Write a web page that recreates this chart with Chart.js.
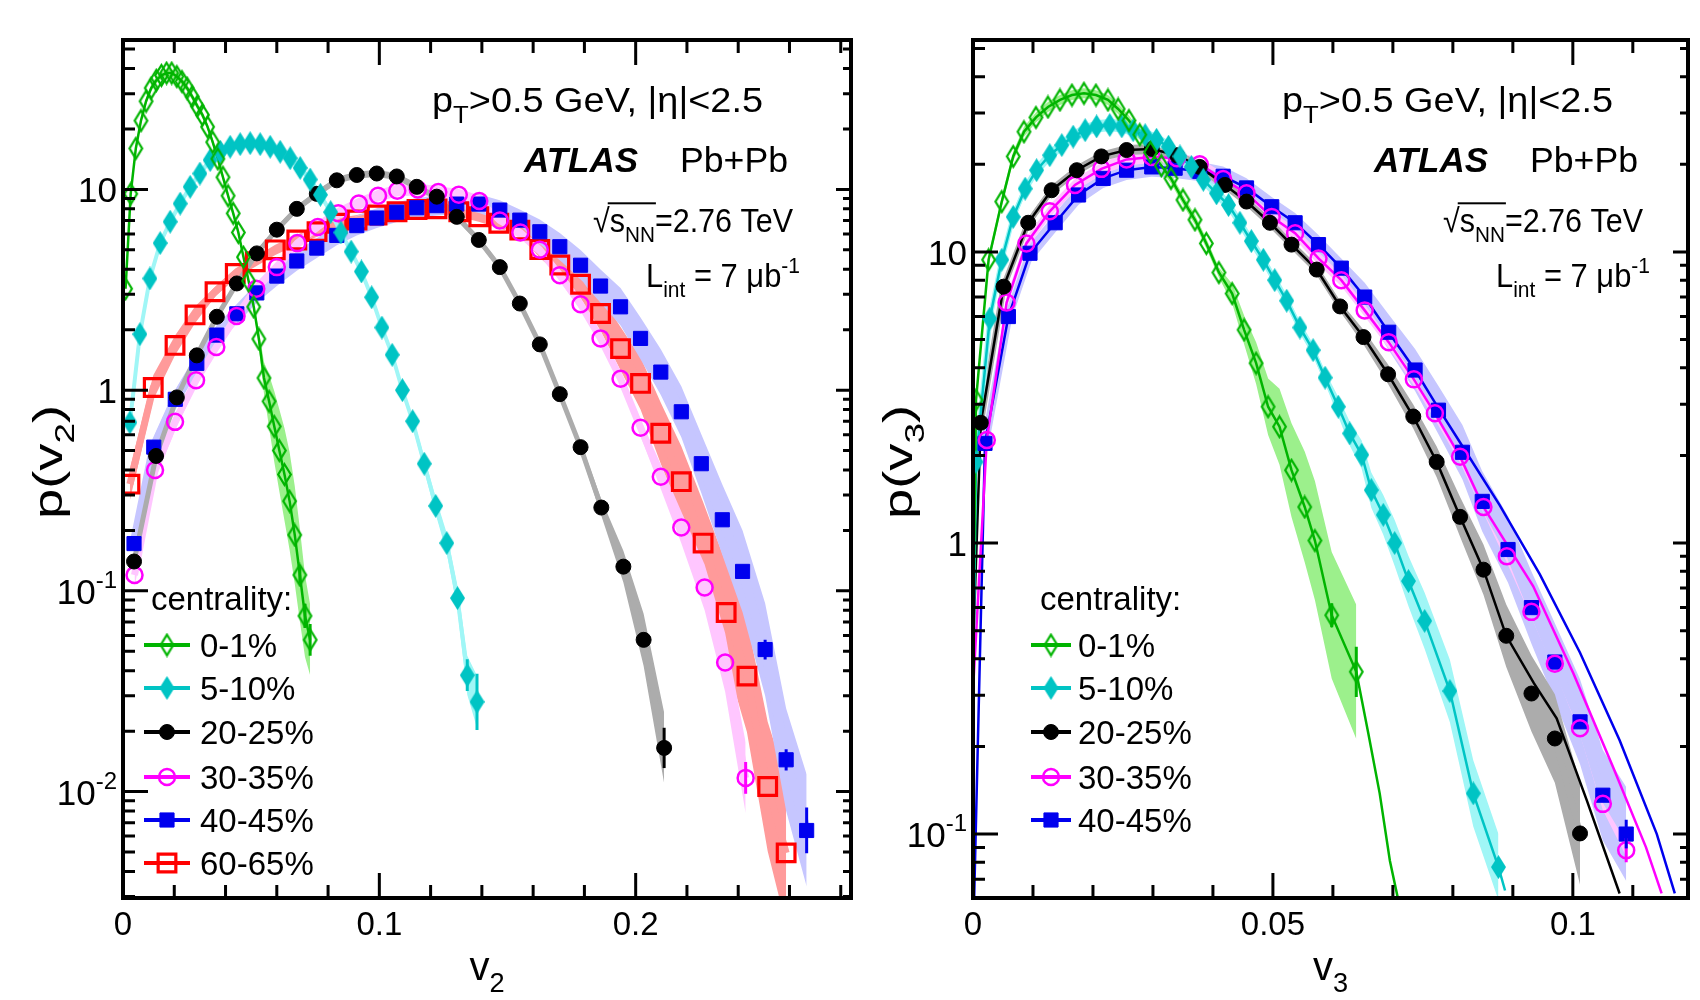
<!DOCTYPE html>
<html lang="en">
<head>
<meta charset="UTF-8">
<title>p(v2) and p(v3) - ATLAS Pb+Pb 2.76 TeV</title>
<script src="https://cdn.jsdelivr.net/npm/chart.js"></script>
<style>
  html, body { margin: 0; background: #fff; }
  #page { position: relative; width: 1700px; height: 1000px; }
  #page canvas { position: absolute; top: 0; }
</style>
</head>
<body>
<div id="page">
  <canvas id="v2Chart" width="880" height="1000" style="left:0px"></canvas>
  <canvas id="v3Chart" width="820" height="1000" style="left:880px"></canvas>
</div>
<script>
const FONT = "'Liberation Sans', Arial, Helvetica, sans-serif";

// axis ranges and tick labels
const v2Min = 0, v2Max = 0.284;
const v3Min = 0, v3Max = 0.1192;
const pv2Min = 0.00295, pv2Max = 55.5;
const pv3Min = 0.0603, pv3Max = 53.5;
const v2TickLabels = [0, 0.1, 0.2];
const v3TickLabels = [0, 0.05, 0.1];
const v2MinorStep = 0.02, v3MinorStep = 0.01;
const pv2TickLabels = [0.01, 0.1, 1, 10];
const pv3TickLabels = [0.1, 1, 10];

// ---- p(v2) per centrality class: points, relative systematic band, stat errors on the last points ----
const v2X_0to1 = [0.001,0.003,0.005,0.007,0.009,0.011,0.013,0.015,0.017,0.019,0.021,0.023,0.025,0.027,0.029,0.031,0.033,0.035,0.037,0.039,0.041,0.043,0.045,0.047,0.049,0.051,0.053,0.055,0.057,0.059,0.061,0.063,0.065,0.067,0.069,0.071,0.073];
const v2Y_0to1 = [3.2,9.5,16,22,27.5,32,35,37,38,38,36.5,34.5,32,29,26,23.5,20.5,17.2,14.2,11.5,9.3,7.6,6.1,4.6,3.5,2.6,1.8,1.15,0.88,0.66,0.5,0.38,0.28,0.19,0.12,0.075,0.057];
const v2Sys_0to1 = [0.04,0.04,0.04,0.04,0.04,0.04,0.04,0.04,0.04,0.04,0.04,0.04,0.04,0.04,0.04,0.04,0.04,0.04,0.04,0.04,0.04,0.04,0.04,0.04,0.04,0.04,0.1,0.2,0.35,0.5,0.6,0.7,0.75,0.75,0.7,0.6,0.5];
const v2Stat_0to1 = [0.1,0.15,0.2];

const v2X_5to10 = [0.0027,0.0066,0.0105,0.0145,0.0184,0.0223,0.0262,0.030,0.034,0.038,0.0418,0.0457,0.0496,0.0535,0.0574,0.0613,0.0652,0.0691,0.073,0.077,0.081,0.085,0.089,0.093,0.097,0.101,0.105,0.109,0.113,0.1175,0.122,0.1263,0.1305,0.1343,0.1381];
const v2Y_5to10 = [0.69,1.9,3.6,5.4,6.9,8.5,10.3,12.0,14.0,15.4,16.3,16.8,17.0,16.8,16.3,15.4,14.3,12.8,11.2,9.4,7.7,6.1,4.9,3.9,2.9,2.05,1.5,1.0,0.70,0.43,0.265,0.173,0.092,0.038,0.028];
const v2Sys_5to10 = [0.04,0.04,0.04,0.04,0.04,0.04,0.04,0.04,0.04,0.04,0.04,0.04,0.04,0.04,0.04,0.04,0.04,0.04,0.04,0.04,0.04,0.04,0.04,0.04,0.04,0.04,0.04,0.04,0.06,0.08,0.1,0.12,0.15,0.25,0.35];
const v2Stat_5to10 = [0.2,0.38];

const v2X_20to25 = [0.0043,0.0129,0.021,0.0288,0.0366,0.0444,0.0522,0.060,0.0678,0.0756,0.0834,0.0912,0.099,0.1068,0.1146,0.1224,0.1302,0.1388,0.147,0.1548,0.1626,0.1704,0.1785,0.1866,0.1952,0.2031,0.2111];
const v2Y_20to25 = [0.14,0.47,0.92,1.49,2.32,3.4,4.8,6.3,8.0,9.5,11.1,11.8,12.0,11.6,10.3,9.2,7.3,5.6,4.1,2.7,1.69,0.955,0.52,0.26,0.132,0.057,0.0165];
const v2Sys_20to25 = [0.04,0.04,0.04,0.04,0.04,0.04,0.04,0.04,0.04,0.04,0.04,0.04,0.04,0.04,0.04,0.04,0.04,0.04,0.04,0.04,0.04,0.04,0.06,0.1,0.2,0.35,0.5];
const v2Stat_20to25 = [0.26];

const v2X_30to35 = [0.0045,0.0125,0.0203,0.0285,0.0364,0.0443,0.052,0.060,0.068,0.076,0.084,0.092,0.0995,0.107,0.115,0.123,0.131,0.139,0.147,0.155,0.1626,0.1704,0.1785,0.1863,0.1941,0.2019,0.2098,0.2178,0.2269,0.2349,0.2429];
const v2Y_30to35 = [0.12,0.40,0.695,1.12,1.64,2.34,3.2,4.1,5.4,6.5,7.6,8.5,9.3,9.85,10.0,9.7,9.4,8.75,7.0,6.1,5.0,3.74,2.68,1.81,1.14,0.65,0.37,0.207,0.104,0.044,0.0117];
const v2Sys_30to35 = [0.15,0.12,0.1,0.07,0.07,0.07,0.07,0.07,0.07,0.07,0.07,0.07,0.07,0.07,0.07,0.07,0.07,0.07,0.07,0.07,0.07,0.07,0.07,0.07,0.07,0.1,0.15,0.2,0.3,0.4,0.5];
const v2Stat_30to35 = [0.2];

const v2X_40to45 = [0.0043,0.012,0.0204,0.0288,0.0366,0.0444,0.0522,0.060,0.0678,0.0756,0.0834,0.0912,0.099,0.1068,0.1146,0.1224,0.1302,0.1388,0.147,0.1548,0.1626,0.1704,0.1785,0.1863,0.1941,0.2019,0.2098,0.2178,0.2256,0.2338,0.2417,0.2505,0.2587,0.2667];
const v2Y_40to45 = [0.172,0.52,0.90,1.36,1.88,2.40,3.05,3.7,4.4,5.1,5.9,6.6,7.2,7.7,8.1,8.3,8.45,8.45,7.89,7.03,6.15,5.18,4.19,3.3,2.6,1.81,1.23,0.78,0.43,0.226,0.125,0.051,0.0144,0.0064];
const v2Sys_40to45 = [0.12,0.12,0.12,0.12,0.12,0.12,0.12,0.12,0.12,0.12,0.12,0.12,0.12,0.12,0.12,0.12,0.12,0.12,0.12,0.13,0.15,0.17,0.19,0.21,0.24,0.27,0.3,0.34,0.4,0.5,0.6,0.7,0.8,0.9];
const v2Stat_40to45 = [0.12,0.13,0.3];

const v2X_60to65 = [0.0027,0.0118,0.0203,0.0281,0.0359,0.0438,0.0516,0.0594,0.0678,0.0757,0.0835,0.0913,0.0991,0.1069,0.1147,0.1225,0.131,0.1388,0.1466,0.1548,0.1626,0.1704,0.1785,0.1863,0.1941,0.2019,0.2098,0.2178,0.2263,0.2353,0.2434,0.2515,0.2587];
const v2Y_60to65 = [0.34,1.03,1.67,2.37,3.09,3.81,4.36,5.0,5.6,6.16,6.78,7.04,7.45,7.74,7.94,8.0,7.74,7.31,6.78,6.27,5.02,4.2,3.37,2.41,1.61,1.08,0.61,0.35,0.173,0.078,0.0376,0.0106,0.00495];
const v2Sys_60to65 = [0.2,0.15,0.12,0.1,0.06,0.06,0.06,0.06,0.06,0.06,0.06,0.06,0.06,0.06,0.06,0.06,0.06,0.06,0.06,0.06,0.1,0.13,0.17,0.22,0.28,0.35,0.42,0.5,0.6,0.75,0.9,1.1,1.3];

// ---- p(v3) per centrality class: points, band, stat errors, and the continuous curve's tail ----
const v3X_0to1 = [0.0005,0.0026,0.0048,0.0067,0.0085,0.0105,0.0125,0.0145,0.0165,0.0185,0.0205,0.0225,0.0242,0.026,0.0278,0.0296,0.0314,0.033,0.035,0.037,0.0389,0.041,0.0432,0.0452,0.0472,0.0492,0.0511,0.0531,0.0553,0.057,0.0598,0.0639];
const v3Y_0to1 = [3.1,9.4,14.9,21.3,25.9,29,31.5,33.3,34.6,35.1,34.6,33.3,31,28.3,25.3,22,19.8,17.9,15.1,12.9,10.7,8.5,7.2,5.4,4.15,2.94,2.51,1.78,1.33,1.02,0.565,0.361];
const v3Sys_0to1 = [0.04,0.04,0.04,0.04,0.04,0.04,0.04,0.04,0.04,0.04,0.04,0.04,0.04,0.04,0.04,0.04,0.04,0.04,0.04,0.04,0.04,0.04,0.08,0.12,0.18,0.25,0.35,0.45,0.55,0.6,0.65,0.7];
const v3Stat_0to1 = [0.1,0.22];
const v3TailX_0to1 = [0.0659,0.0678,0.0695,0.071];
const v3TailY_0to1 = [0.222,0.138,0.081,0.058];

const v3X_5to10 = [0.0005,0.0028,0.0048,0.0067,0.0087,0.0106,0.0128,0.0148,0.0167,0.0187,0.0206,0.0228,0.0248,0.0267,0.0287,0.0306,0.0326,0.0345,0.0364,0.0384,0.0406,0.0426,0.0445,0.0464,0.0484,0.0503,0.0523,0.0545,0.0567,0.0587,0.0609,0.0628,0.0648,0.0664,0.0684,0.0703,0.0726,0.0753,0.0795,0.0834,0.0876];
const v3Y_5to10 = [1.9,5.9,9.4,13.2,16.5,19.1,21.5,23.3,24.9,26.2,27.0,27.3,27.0,26.2,25.2,24.3,23.0,21.3,19.6,17.7,15.9,14.5,12.6,10.9,9.4,8.0,6.8,5.5,4.6,3.7,2.94,2.38,2.01,1.52,1.25,1.0,0.74,0.54,0.31,0.138,0.077];
const v3Sys_5to10 = [0.05,0.05,0.05,0.05,0.05,0.05,0.05,0.05,0.05,0.05,0.05,0.05,0.05,0.05,0.05,0.05,0.05,0.05,0.05,0.05,0.05,0.05,0.05,0.05,0.05,0.05,0.05,0.05,0.05,0.05,0.08,0.1,0.12,0.15,0.17,0.2,0.22,0.25,0.28,0.3,0.3];
const v3TailX_5to10 = [0.0887];
const v3TailY_5to10 = [0.064];

const v3X_20to25 = [0.0013,0.0051,0.0092,0.0131,0.0173,0.0214,0.0256,0.0298,0.034,0.0378,0.042,0.0456,0.0495,0.0531,0.0573,0.0612,0.0651,0.0692,0.0734,0.0773,0.0812,0.0851,0.0889,0.0931,0.097,0.1012];
const v3Y_20to25 = [2.59,7.6,12.6,16.3,19.1,21.3,22.4,22.6,21.5,19.6,17.0,14.9,12.6,10.6,8.7,6.5,5.1,3.8,2.72,1.90,1.23,0.81,0.48,0.304,0.213,0.1005];
const v3Sys_20to25 = [0.04,0.04,0.04,0.04,0.04,0.04,0.04,0.04,0.04,0.04,0.04,0.04,0.04,0.04,0.04,0.04,0.06,0.08,0.1,0.13,0.17,0.22,0.28,0.35,0.42,0.5];
const v3Stat_20to25 = [0.06];
const v3TailX_20to25 = [0.0935,0.0973,0.1023,0.1078];
const v3TailY_20to25 = [0.33,0.25,0.131,0.0625];

const v3X_30to35 = [0.0023,0.0056,0.0089,0.0128,0.017,0.0214,0.0256,0.0298,0.034,0.0378,0.0417,0.0456,0.0498,0.0537,0.0576,0.0614,0.0653,0.0693,0.0735,0.077,0.0812,0.0851,0.089,0.0931,0.097,0.1012,0.105,0.1089];
const v3Y_30to35 = [2.26,6.7,10.7,13.8,17.0,19.3,20.8,21.2,21.0,20.0,17.8,15.9,13.2,11.6,9.5,8.0,6.3,4.9,3.65,2.79,1.98,1.33,0.90,0.58,0.385,0.231,0.127,0.088];
const v3Sys_30to35 = [0.05,0.05,0.05,0.05,0.05,0.05,0.05,0.05,0.05,0.05,0.05,0.05,0.05,0.05,0.05,0.05,0.05,0.05,0.05,0.05,0.05,0.05,0.05,0.05,0.05,0.05,0.05,0.05];
const v3Stat_30to35 = [0.1];
const v3TailX_30to35 = [0.0934,0.1001,0.1067,0.1122,0.1148];
const v3TailY_30to35 = [0.71,0.356,0.17,0.09,0.0625];

const v3X_40to45 = [0.002,0.0059,0.0095,0.0137,0.0176,0.0217,0.0256,0.0298,0.0337,0.0378,0.0417,0.0456,0.0498,0.0537,0.0576,0.0614,0.0653,0.0693,0.0737,0.0776,0.0816,0.0849,0.0892,0.0931,0.097,0.1012,0.105,0.1089];
const v3Y_40to45 = [2.2,6.0,9.9,12.6,15.7,17.9,19.1,19.6,19.4,18.9,18.2,16.6,14.3,12.6,10.6,8.8,7.0,5.3,3.93,2.86,2.05,1.39,0.95,0.60,0.39,0.243,0.136,0.10];
const v3Sys_40to45 = [0.08,0.08,0.08,0.08,0.08,0.08,0.08,0.08,0.08,0.08,0.08,0.08,0.08,0.08,0.08,0.08,0.12,0.15,0.18,0.21,0.24,0.27,0.3,0.33,0.36,0.4,0.43,0.45];
const v3Stat_40to45 = [0.12];
const v3TailX_40to45 = [0.0776,0.0816,0.0878,0.0945,0.1012,0.1078,0.114,0.117];
const v3TailY_40to45 = [2.9,2.15,1.35,0.78,0.42,0.21,0.10,0.0625];

// where each p(v3) curve meets the v3 = 0 edge, and how many points it follows before its own tail
const v3CurveStart = { '0-1%': 0.62, '5-10%': 0.42, '20-25%': 0.5, '30-35%': 0.34, '40-45%': 0.05 };
const v3CurveCut = { '0-1%': 32, '5-10%': 41, '20-25%': 23, '30-35%': 22, '40-45%': 19 };

Chart.defaults.font.family = FONT;

// tall diamond markers, drawn once into small canvases
function diamond(w, h, fill, stroke, lw) {
  const c = document.createElement('canvas');
  c.width = Math.ceil(w + 2 * lw); c.height = Math.ceil(h + 2 * lw);
  const g = c.getContext('2d');
  g.beginPath();
  g.moveTo(c.width / 2, lw); g.lineTo(c.width - lw, c.height / 2);
  g.lineTo(c.width / 2, c.height - lw); g.lineTo(lw, c.height / 2);
  g.closePath();
  if (fill) { g.fillStyle = fill; g.fill(); }
  if (stroke) { g.strokeStyle = stroke; g.lineWidth = lw; g.stroke(); }
  return c;
}

const look = {
  '0-1%':   { color: '#00b400', band: '#9cf08c', pointStyle: diamond(12, 20, null, '#00b400', 2.2) },
  '5-10%':  { color: '#00c4c4', band: '#a0f6f6', pointStyle: diamond(15, 24, '#00c4c4', null, 0) },
  '20-25%': { color: '#000000', band: '#acacac', pointStyle: 'circle', radius: 7.5, bw: 1, fill: '#000000' },
  '30-35%': { color: '#ff00ff', band: '#ffc6ff', pointStyle: 'circle', radius: 8, bw: 2.5, fill: 'rgba(0,0,0,0)' },
  '40-45%': { color: '#0000ee', band: '#c6c6ff', pointStyle: 'rect', radius: 10, bw: 1, fill: '#0000ee' },
  '60-65%': { color: '#ff0000', band: '#ff9a9a', pointStyle: 'rect', radius: 12.5, bw: 3.2, fill: 'rgba(0,0,0,0)' },
};

function pts(xs, ys) { return xs.map((x, i) => ({ x, y: ys[i] })); }

const v2Series = [
  { label: '0-1%',   x: v2X_0to1,   y: v2Y_0to1,   sys: v2Sys_0to1,   stat: v2Stat_0to1 },
  { label: '5-10%',  x: v2X_5to10,  y: v2Y_5to10,  sys: v2Sys_5to10,  stat: v2Stat_5to10 },
  { label: '20-25%', x: v2X_20to25, y: v2Y_20to25, sys: v2Sys_20to25, stat: v2Stat_20to25 },
  { label: '30-35%', x: v2X_30to35, y: v2Y_30to35, sys: v2Sys_30to35, stat: v2Stat_30to35 },
  { label: '40-45%', x: v2X_40to45, y: v2Y_40to45, sys: v2Sys_40to45, stat: v2Stat_40to45 },
  { label: '60-65%', x: v2X_60to65, y: v2Y_60to65, sys: v2Sys_60to65 },
];
v2Series[0].line = pts(v2X_0to1, v2Y_0to1);

const v3Series = [
  { label: '0-1%',   x: v3X_0to1,   y: v3Y_0to1,   sys: v3Sys_0to1,   stat: v3Stat_0to1,   tx: v3TailX_0to1,   ty: v3TailY_0to1 },
  { label: '5-10%',  x: v3X_5to10,  y: v3Y_5to10,  sys: v3Sys_5to10,  tx: v3TailX_5to10,  ty: v3TailY_5to10 },
  { label: '20-25%', x: v3X_20to25, y: v3Y_20to25, sys: v3Sys_20to25, stat: v3Stat_20to25, tx: v3TailX_20to25, ty: v3TailY_20to25 },
  { label: '30-35%', x: v3X_30to35, y: v3Y_30to35, sys: v3Sys_30to35, stat: v3Stat_30to35, tx: v3TailX_30to35, ty: v3TailY_30to35 },
  { label: '40-45%', x: v3X_40to45, y: v3Y_40to45, sys: v3Sys_40to45, stat: v3Stat_40to45, tx: v3TailX_40to45, ty: v3TailY_40to45 },
];
v3Series.forEach(s => {
  const n = v3CurveCut[s.label];
  s.line = [{ x: 0.0001, y: v3CurveStart[s.label] }]
    .concat(pts(s.x.slice(0, n), s.y.slice(0, n)), pts(s.tx, s.ty));
});

function buildDatasets(series, bandLine, curveWidth) {
  const ds = [];
  series.forEach(s => {
    const st = look[s.label];
    const marks = pts(s.x, s.y);
    ds.push({
      data: marks, showLine: false, order: 0,
      pointStyle: st.pointStyle, pointRadius: st.radius || 10, pointHoverRadius: st.radius || 10,
      pointBorderWidth: st.bw || 0, pointBorderColor: st.color, pointBackgroundColor: st.fill || st.color
    });
    if (s.line) ds.push({ data: s.line, borderColor: st.color, borderWidth: curveWidth, pointRadius: 0, order: 1 });
    if (bandLine[s.label]) ds.push({ data: marks, borderColor: st.band, borderWidth: bandLine[s.label], pointRadius: 0, order: 2 });
    ds.push({ data: s.x.map((x, i) => ({ x, y: s.y[i] * (1 + s.sys[i]) })), borderColor: 'rgba(0,0,0,0)', borderWidth: 0, pointRadius: 0, order: 3 });
    ds.push({ data: s.x.map((x, i) => ({ x, y: s.y[i] / (1 + s.sys[i]) })), borderColor: 'rgba(0,0,0,0)', borderWidth: 0, pointRadius: 0, order: 3, fill: '-1', backgroundColor: st.band });
  });
  return ds;
}

function minorSteps(max, step) {
  const out = [];
  for (let k = 1; k * step < max; k++) out.push(+(k * step).toFixed(6));
  return out;
}
function logMinors(min, max) {
  const out = [];
  for (let d = Math.floor(Math.log10(min)); d <= Math.ceil(Math.log10(max)); d++)
    for (let k = 2; k <= 9; k++) { const v = k * Math.pow(10, d); if (v > min && v < max) out.push(v); }
  return out;
}

// vertical statistical error bars on the last points of a series
const errorBars = {
  id: 'errorBars',
  afterDatasetsDraw(chart, args, o) {
    const { ctx, chartArea: a } = chart;
    const sx = chart.scales.x, sy = chart.scales.y;
    ctx.save();
    ctx.beginPath(); ctx.rect(a.left, a.top, a.right - a.left, a.bottom - a.top); ctx.clip();
    ctx.lineWidth = 3;
    o.series.forEach(s => {
      if (!s.stat) return;
      const n0 = s.x.length - s.stat.length;
      ctx.strokeStyle = look[s.label].color;
      ctx.beginPath();
      s.stat.forEach((e, k) => {
        const i = n0 + k, px = sx.getPixelForValue(s.x[i]);
        ctx.moveTo(px, sy.getPixelForValue(s.y[i] * (1 + e)));
        ctx.lineTo(px, sy.getPixelForValue(s.y[i] / (1 + e)));
      });
      ctx.stroke();
    });
    ctx.restore();
  }
};

function drawPowerLabel(ctx, v, right, y) {
  const e = Math.round(Math.log10(v));
  const base = e < 0 ? '10' : String(v);
  const exp = e < 0 ? String(e) : '';
  ctx.font = `35px ${FONT}`;
  const wb = ctx.measureText(base).width;
  ctx.font = `24px ${FONT}`;
  const we = exp ? ctx.measureText(exp).width : 0;
  const x0 = right - wb - we;
  ctx.font = `35px ${FONT}`;
  ctx.fillText(base, x0, y + 13);
  if (exp) { ctx.font = `24px ${FONT}`; ctx.fillText(exp, x0 + wb, y - 3); }
}

// frame with inward ticks on all four sides, plus tick labels
const axisFrame = {
  id: 'axisFrame',
  afterDatasetsDraw(chart, args, o) {
    const { ctx, chartArea: a } = chart;
    const sx = chart.scales.x, sy = chart.scales.y;
    ctx.save();
    ctx.strokeStyle = '#000';
    ctx.lineWidth = 3;
    ctx.beginPath();
    const vTick = (v, len) => {
      const p = sx.getPixelForValue(v);
      ctx.moveTo(p, a.bottom); ctx.lineTo(p, a.bottom - len);
      ctx.moveTo(p, a.top); ctx.lineTo(p, a.top + len);
    };
    const hTick = (v, lenL, lenR) => {
      const p = sy.getPixelForValue(v);
      ctx.moveTo(a.left, p); ctx.lineTo(a.left + lenL, p);
      ctx.moveTo(a.right, p); ctx.lineTo(a.right - lenR, p);
    };
    minorSteps(sx.max, o.xStep).forEach(v => vTick(v, 13));
    o.xMajor.forEach(v => vTick(v, 25));
    logMinors(sy.min, sy.max).forEach(v => hTick(v, 12, 8));
    o.yMajor.forEach(v => hTick(v, 25, 15));
    ctx.stroke();
    ctx.lineWidth = 4;
    ctx.strokeRect(a.left, a.top, a.right - a.left, a.bottom - a.top);

    ctx.fillStyle = '#000';
    ctx.textBaseline = 'alphabetic';
    ctx.font = `33px ${FONT}`;
    ctx.textAlign = 'center';
    o.xMajor.forEach(v => ctx.fillText(String(v), sx.getPixelForValue(v), a.bottom + 37));
    ctx.textAlign = 'left';
    o.yMajor.forEach(v => drawPowerLabel(ctx, v, a.left - 6, sy.getPixelForValue(v)));
    ctx.restore();
  }
};

// text made of normal / sub / sup pieces, optionally fitted to a width
function runFont(r, size) { return `${r.st || ''} ${r.k ? size * 0.68 : size}px ${FONT}`; }
function drawRuns(ctx, runs, x, y, size, width) {
  let natural = 0;
  runs.forEach(r => { ctx.font = runFont(r, size); natural += ctx.measureText(r.t).width; });
  const sx = width ? width / natural : 1;
  ctx.save(); ctx.translate(x, y); ctx.scale(sx, 1);
  let cx = 0; const spans = [];
  runs.forEach(r => {
    ctx.font = runFont(r, size);
    const dy = r.k === 'sub' ? size * 0.3 : r.k === 'sup' ? -size * 0.42 : 0;
    ctx.fillText(r.t, cx, dy);
    const w = ctx.measureText(r.t).width;
    spans.push([x + cx * sx, x + (cx + w) * sx]);
    cx += w;
  });
  ctx.restore();
  return spans;
}

const infoLines = [
  { runs: [{ t: 'p' }, { t: 'T', k: 'sub' }, { t: '>0.5 GeV, |η|<2.5' }], dx: 309, y: 112, size: 35, w: 331 },
  { runs: [{ t: 'ATLAS', st: 'italic bold' }], dx: 401, y: 172, size: 35, w: 114 },
  { runs: [{ t: 'Pb+Pb' }], dx: 557, y: 172, size: 35, w: 108 },
  { runs: [{ t: '√' }, { t: 's' }, { t: 'NN', k: 'sub' }, { t: '=2.76 TeV' }], dx: 470, y: 232, size: 33, w: 200, radical: true },
  { runs: [{ t: 'L' }, { t: 'int', k: 'sub' }, { t: ' = 7 μb' }, { t: '-1', k: 'sup' }], dx: 523, y: 287, size: 33, w: 154 },
];
const legendHeaderY = 610;
const legendRowsY = [645, 688, 732, 777, 820, 863];

function drawMarker(ctx, st, x, y) {
  const ps = st.pointStyle;
  if (typeof ps === 'object') { ctx.drawImage(ps, x - ps.width / 2, y - ps.height / 2); return; }
  ctx.beginPath();
  if (ps === 'circle') ctx.arc(x, y, st.radius, 0, Math.PI * 2);
  else { const h = st.radius * Math.SQRT1_2; ctx.rect(x - h, y - h, 2 * h, 2 * h); }
  ctx.fillStyle = st.fill; ctx.fill();
  ctx.lineWidth = st.bw; ctx.strokeStyle = st.color; ctx.stroke();
}

// labels, legend and axis titles
const notes = {
  id: 'notes',
  afterDraw(chart, args, o) {
    const { ctx, chartArea: a } = chart;
    ctx.save();
    ctx.fillStyle = '#000';
    ctx.textAlign = 'left';
    ctx.textBaseline = 'alphabetic';

    infoLines.forEach(l => {
      const spans = drawRuns(ctx, l.runs, a.left + l.dx, l.y, l.size, l.w);
      if (l.radical) ctx.fillRect(spans[0][1] - 2, l.y - l.size * 0.9, spans[2][1] - spans[0][1] + 3, 2);
    });

    const lg = o.legend;
    ctx.font = `33px ${FONT}`;
    ctx.fillText('centrality:', a.left + lg.header, legendHeaderY);
    o.series.forEach((s, i) => {
      const st = look[s.label], y = legendRowsY[i];
      ctx.strokeStyle = st.color; ctx.lineWidth = 4;
      ctx.beginPath(); ctx.moveTo(a.left + lg.line[0], y); ctx.lineTo(a.left + lg.line[1], y); ctx.stroke();
      drawMarker(ctx, st, a.left + lg.marker, y);
      ctx.fillStyle = '#000'; ctx.font = `33px ${FONT}`;
      ctx.fillText(s.label, a.left + lg.text, y + 12);
    });

    // x title
    const xr = [{ t: 'v' }, { t: o.harmonic, k: 'sub' }];
    let xw = 0;
    xr.forEach(r => { ctx.font = runFont(r, 40); xw += ctx.measureText(r.t).width; });
    drawRuns(ctx, xr, (a.left + a.right) / 2 - xw / 2, 980, 40);

    // y title, rotated
    ctx.save();
    ctx.translate(a.left - 72, 462);
    ctx.rotate(-Math.PI / 2);
    drawRuns(ctx, [{ t: 'p(v' }, { t: o.harmonic, k: 'sub' }, { t: ')' }], -57, 11, 40, 114);
    ctx.restore();

    ctx.restore();
  }
};

function makeChart(id, series, cfg) {
  return new Chart(document.getElementById(id), {
    type: 'line',
    data: { datasets: buildDatasets(series, cfg.bandLine, cfg.curveWidth) },
    options: {
      responsive: false,
      animation: false,
      events: [],
      layout: { padding: { top: 40, right: cfg.padRight, left: 0, bottom: 0 } },
      plugins: {
        legend: { display: false },
        tooltip: { enabled: false },
        errorBars: { series },
        axisFrame: { xMajor: cfg.xMajor, xStep: cfg.xStep, yMajor: cfg.yMajor },
        notes: { series, legend: cfg.legend, harmonic: cfg.harmonic }
      },
      scales: {
        x: {
          type: 'linear', min: cfg.xRange[0], max: cfg.xRange[1],
          grid: { display: false, drawTicks: false }, border: { display: false },
          ticks: { display: false },
          afterFit: s => { s.height = 102; }
        },
        y: {
          type: 'logarithmic', min: cfg.yRange[0], max: cfg.yRange[1],
          grid: { display: false, drawTicks: false }, border: { display: false },
          ticks: { display: false },
          afterFit: s => { s.width = cfg.yWidth; }
        }
      }
    },
    plugins: [errorBars, axisFrame, notes]
  });
}

makeChart('v2Chart', v2Series, {
  xRange: [v2Min, v2Max], yRange: [pv2Min, pv2Max],
  xMajor: v2TickLabels, xStep: v2MinorStep, yMajor: pv2TickLabels,
  yWidth: 123, padRight: 29, harmonic: '2', curveWidth: 2.5,
  bandLine: { '5-10%': 4, '20-25%': 5, '30-35%': 7, '40-45%': 9, '60-65%': 7 },
  legend: { header: 28, line: [21, 67], marker: 44, text: 77 }
});

makeChart('v3Chart', v3Series, {
  xRange: [v3Min, v3Max], yRange: [pv3Min, pv3Max],
  xMajor: v3TickLabels, xStep: v3MinorStep, yMajor: pv3TickLabels,
  yWidth: 93, padRight: 12, harmonic: '3', curveWidth: 2.5,
  bandLine: { '5-10%': 5, '20-25%': 6, '40-45%': 8 },
  legend: { header: 67, line: [58, 98], marker: 78, text: 105 }
});
</script>
</body>
</html>
